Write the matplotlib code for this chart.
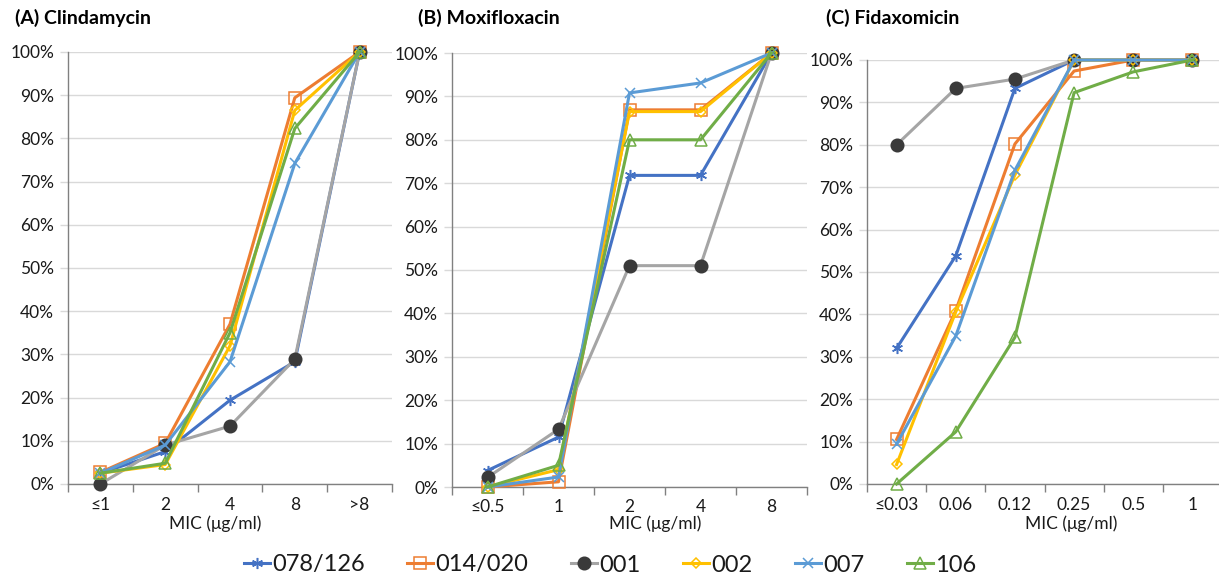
import matplotlib
matplotlib.use("Agg")
import matplotlib.pyplot as plt
from matplotlib.ticker import FixedLocator, PercentFormatter, NullFormatter

plt.rcParams['font.family'] = ['Lato', 'DejaVu Sans']

# --- data (cumulative % of isolates) ---
series = ['078/126', '014/020', '001', '002', '007', '106']

clinda_mic = ['≤1', '2', '4', '8', '>8']
clinda_078 = [2.5, 7.5, 19.4, 28.3, 100]
clinda_014 = [2.7, 9.4, 37.0, 89.4, 100]
clinda_001 = [0.0, 9.0, 13.4, 28.9, 100]
clinda_002 = [2.5, 4.5, 32.0, 86.5, 100]
clinda_007 = [2.5, 9.0, 28.3, 74.2, 100]
clinda_106 = [2.5, 4.8, 35.0, 82.3, 100]

moxi_mic = ['≤0.5', '1', '2', '4', '8']
moxi_078 = [3.8, 11.5, 71.8, 71.8, 100]
moxi_014 = [0.0, 1.2, 86.9, 86.9, 100]
moxi_001 = [2.2, 13.3, 51.0, 51.0, 100]
moxi_002 = [0.0, 4.0, 86.5, 86.5, 100]
moxi_007 = [0.0, 2.3, 90.8, 93.1, 100]
moxi_106 = [0.0, 5.0, 80.0, 80.0, 100]

fidax_mic = ['≤0.03', '0.06', '0.12', '0.25', '0.5', '1']
fidax_078 = [32.0, 53.8, 93.3, 100, 100, 100]
fidax_014 = [10.5, 40.9, 80.2, 97.4, 100, 100]
fidax_001 = [80.0, 93.3, 95.5, 100, 100, 100]
fidax_002 = [4.6, 40.6, 72.9, 100, 100, 100]
fidax_007 = [9.4, 34.9, 74.0, 100, 100, 100]
fidax_106 = [0.0, 12.3, 34.6, 92.3, 97.2, 100]

panels = [
    ('(A) Clindamycin', clinda_mic,
     [clinda_078, clinda_014, clinda_001, clinda_002, clinda_007, clinda_106]),
    ('(B) Moxifloxacin', moxi_mic,
     [moxi_078, moxi_014, moxi_001, moxi_002, moxi_007, moxi_106]),
    ('(C) Fidaxomicin', fidax_mic,
     [fidax_078, fidax_014, fidax_001, fidax_002, fidax_007, fidax_106]),
]

# line style per ribotype: (line colour, marker, marker face, marker edge, size)
styles = [
    ('#4472C4', (6, 2, 0), 'none', '#4472C4', 8),
    ('#ED7D31', 's', 'none', '#ED7D31', 8),
    ('#A5A5A5', 'o', '#3A3A3A', '#3A3A3A', 9),
    ('#FFC000', 'D', 'none', '#FFC000', 5.5),
    ('#5B9BD5', 'x', 'none', '#5B9BD5', 7),
    ('#70AD47', '^', 'none', '#70AD47', 8),
]

W, H = 1219, 577
fig = plt.figure(figsize=(W / 100, H / 100), dpi=100)

# axes boxes in pixels: left, top, right, bottom
boxes = [(68, 52, 392, 484), (452, 53, 807, 487), (867, 60, 1222, 484)]
title_x = [15, 418, 826]
xlabel_x = [215, 655, 1071]

for (title, mic, vals), (l, t, r, b), tx, lx in zip(panels, boxes, title_x, xlabel_x):
    ax = fig.add_axes([l / W, 1 - b / H, (r - l) / W, (b - t) / H])
    x = list(range(len(mic)))
    for name, v, (col, mk, mfc, mec, ms) in zip(series, vals, styles):
        ax.plot(x, [p / 100 for p in v], color=col, lw=2.2, marker=mk,
                markerfacecolor=mfc, markeredgecolor=mec, markersize=ms,
                markeredgewidth=1.1, label=name, clip_on=False, zorder=3)
    ax.set_xlim(-0.5, len(mic) - 0.5)
    ax.set_ylim(0, 1)
    ax.yaxis.set_major_locator(FixedLocator([i / 10 for i in range(11)]))
    ax.yaxis.set_major_formatter(PercentFormatter(1.0, decimals=0))
    ax.set_xticks(x)
    ax.set_xticklabels(mic)
    ax.xaxis.set_minor_locator(FixedLocator([i - 0.5 for i in range(len(mic) + 1)]))
    ax.xaxis.set_minor_formatter(NullFormatter())
    ax.tick_params(axis='x', which='major', length=0, pad=9, labelsize=12.5, colors='#1a1a1a')
    ax.tick_params(axis='x', which='minor', length=6, width=1, color='#808080')
    ax.tick_params(axis='y', length=6, width=1, color='#D9D9D9', labelsize=12.5,
                   labelcolor='#1a1a1a', pad=4)
    ax.grid(axis='y', color='#D9D9D9', lw=1)
    ax.set_axisbelow(True)
    for s in ('top', 'right'):
        ax.spines[s].set_visible(False)
    for s in ('left', 'bottom'):
        ax.spines[s].set_color('#808080')
        ax.spines[s].set_linewidth(1)
    fig.text(tx / W, 1 - 18 / H, title, fontsize=14, fontweight='bold',
             va='center', ha='left', color='black')
    fig.text(lx / W, 1 - 524 / H, 'MIC (μg/ml)', fontsize=12.5, ha='center',
             va='center', color='#1a1a1a')

handles, labels = ax.get_legend_handles_labels()
fig.legend(handles, labels, loc='center', bbox_to_anchor=(610 / W, 1 - 565 / H),
           ncol=6, frameon=False, fontsize=17, handlelength=1.1, handletextpad=0.1,
           columnspacing=1.8, borderpad=0, labelcolor='#1a1a1a')

fig.savefig('out.png', dpi=100)
